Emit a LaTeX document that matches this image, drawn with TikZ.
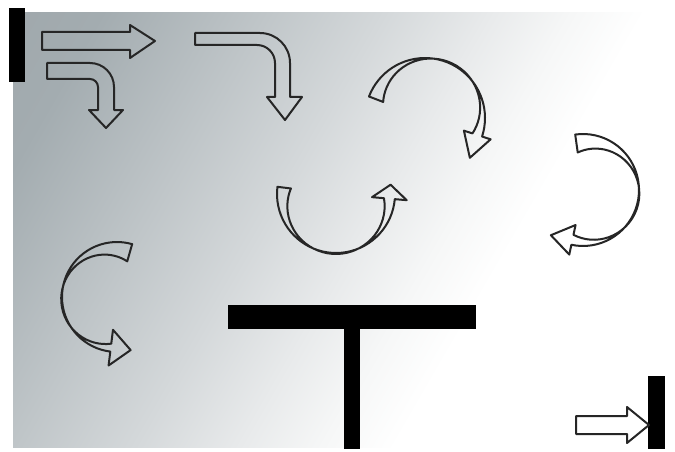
\documentclass[tikz,border=0pt]{standalone}
\definecolor{bgdark}{HTML}{A0A8AC}
\pgfdeclarehorizontalshading{bgfade}{100bp}{color(0bp)=(bgdark); color(25bp)=(bgdark);
  color(30.4bp)=(rgb,255:red,163;green,172;blue,176); color(45.8bp)=(rgb,255:red,212;green,216;blue,218);
  color(51.5bp)=(rgb,255:red,232;green,234;blue,235); color(56bp)=(rgb,255:red,246;green,247;blue,247);
  color(60bp)=(white); color(100bp)=(white)}
% curved hollow arrow with a twist: cx, cy, radius, twist depth, twist angle, start, end, barb, tip
\newcommand{\twistarrow}[9]{%
  \pgfmathsetmacro\twDir{(#7>#6) ? 1 : -1}%
  \pgfmathsetmacro\twIn{#3+1-#4*(1-cos(#7-#5))}%
  \pgfmathsetmacro\twMid{(#3+\twIn)/2}%
  \draw[hol] plot[domain=#6:#7, samples=40] ({#1+#3*cos(\x)},{#2+#3*sin(\x)})
    -- ({#1+(#3+#8)*cos(#7)},{#2+(#3+#8)*sin(#7)})
    -- ({#1+\twMid*cos(#7)-(\twDir)*#9*sin(#7)},{#2+\twMid*sin(#7)+(\twDir)*#9*cos(#7)})
    -- ({#1+(\twIn-#8)*cos(#7)},{#2+(\twIn-#8)*sin(#7)})
    -- plot[domain=#7:#6, samples=40] ({#1+(#3+1-#4*(1-cos(\x-#5)))*cos(\x)},{#2+(#3+1-#4*(1-cos(\x-#5)))*sin(\x)})
    -- cycle;}

\begin{document}
\begin{tikzpicture}[
  x=1pt, y=-1pt,
  hol/.style={draw=black!85, line width=2pt, line join=round},
  blk/.style={fill=black}]

\useasboundingbox (0,0) rectangle (675,452);
\begin{scope}
  \clip (13,13) rectangle (660,447);
  \shade[shading=bgfade, shading angle=-30] (-63.5,-170) rectangle (736.5,630);
\end{scope}

% bars
\fill[blk] (9,8) rectangle (25,82);
\fill[blk] (228,305) rectangle (476,329);
\fill[blk] (344,329) rectangle (360,449);
\fill[blk] (648,376) rectangle (665,449);

% straight and bent arrows
\draw[hol] (42,32) -- (130,32) -- (130,25) -- (155,41) -- (130,58) -- (130,50) -- (42,50) -- cycle;
\draw[hol] (47,63) -- (90,63) arc[start angle=270, end angle=360, radius=24] -- (114,110) -- (123,110)
  -- (106,128) -- (89,110) -- (98,110) -- (98,87) arc[start angle=0, end angle=-90, radius=8] -- (47,79) -- cycle;
\draw[hol] (195,33) -- (260,33) arc[start angle=270, end angle=360, radius=30] -- (290,97) -- (302,97)
  -- (285,120) -- (267,97) -- (275,97) -- (275,63) arc[start angle=0, end angle=-90, radius=18] -- (195,45) -- cycle;
\draw[hol] (576,416) -- (627,416) -- (627,407) -- (649,425) -- (627,443) -- (627,434) -- (576,434) -- cycle;

% curved arrows
\twistarrow{425}{118}{60}{14}{300}{201}{378}{9}{24}
\twistarrow{583}{190}{56}{13}{20}{262}{462}{10}{22}
\twistarrow{336}{194}{59}{13}{90}{187}{5}{12}{14}
\twistarrow{117}{297}{55}{13}{169}{286}{97}{14}{20}
\end{tikzpicture}
\end{document}
